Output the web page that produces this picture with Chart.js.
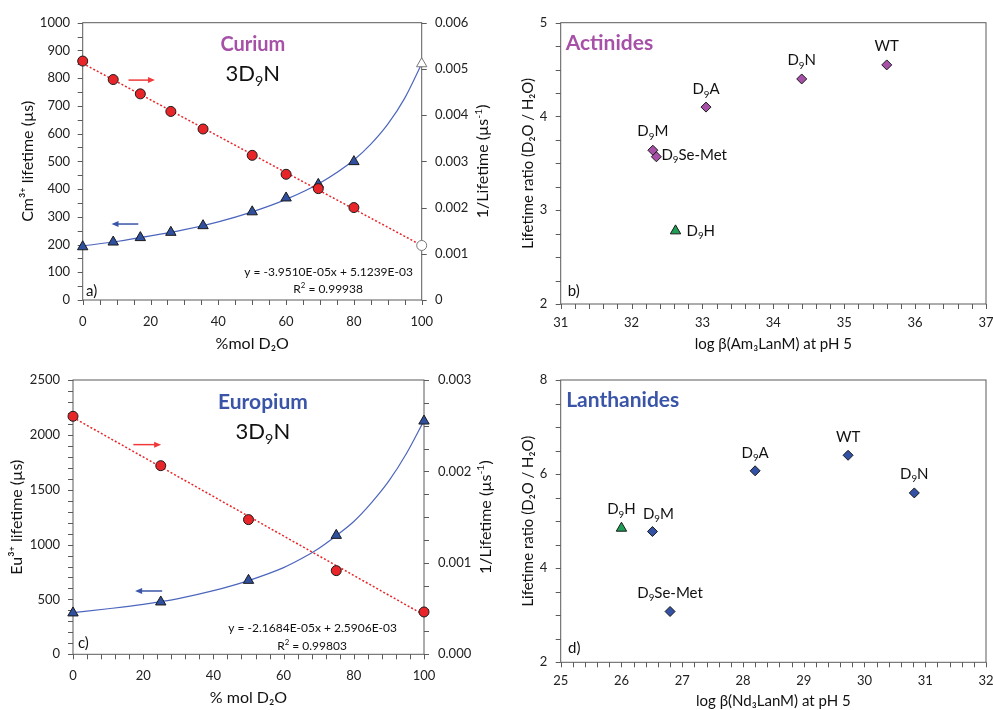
<!DOCTYPE html>
<html lang="en">
<head>
<meta charset="UTF-8">
<title>Cm / Eu lifetimes</title>
<script src="https://cdn.jsdelivr.net/npm/chart.js@4.4.0/dist/chart.umd.min.js"></script>
<style>
    body {
        margin: 0;
        width: 993px;
        height: 710px;
        overflow: hidden;
        position: relative;
        background: #fff;
    }
    canvas {
        position: absolute;
    }
</style>
</head>
<body>
<canvas id="chartA" width="496" height="360" style="left:0;top:0"></canvas>
<canvas id="chartB" width="497" height="360" style="left:496px;top:0"></canvas>
<canvas id="chartC" width="496" height="360" style="left:0;top:350px"></canvas>
<canvas id="chartD" width="497" height="360" style="left:496px;top:350px"></canvas>
<script>
    // ---- a) curium, 3D9N ----
    const cmMolD2O = [0, 9, 17, 26, 35.5, 50, 60, 69.5, 80];
    const cmInvLifetime = [0.00517, 0.00477, 0.00446, 0.00408, 0.00370, 0.00313, 0.00272, 0.00241, 0.00200];
    const cmLifetime = [192, 209, 225, 244, 268, 318, 368, 417, 499];
    const cmOpenX = [100];
    const cmOpenInv = [0.00118];
    const cmOpenLifetime = [852];
    const cmFitX = [0, 100];
    const cmFitInv = [0.00512, 0.00118];
    const cmCurveX = [0, 10, 20, 30, 40, 50, 60, 70, 80, 85, 90, 95, 100];
    const cmCurveLifetime = [195, 211, 231, 254, 282, 318, 363, 422, 505, 562, 634, 728, 852];

    // ---- c) europium, 3D9N ----
    const euMolD2O = [0, 25, 50, 75, 100];
    const euInvLifetime = [0.002603, 0.002063, 0.001473, 0.000915, 0.000463];
    const euLifetime = [377, 477, 674, 1084, 2126];
    const euFitX = [0, 100];
    const euFitInv = [0.00259, 0.00043];
    const euCurveX = [0, 10, 20, 30, 40, 50, 60, 65, 70, 75, 80, 85, 90, 95, 100];
    const euCurveLifetime = [380, 415, 455, 508, 580, 672, 790, 870, 965, 1081, 1210, 1380, 1580, 1830, 2130];

    // ---- b) actinides ----
    const actNames = ['D_{9}M', 'D_{9}Se-Met', 'D_{9}A', 'D_{9}N', 'WT'];
    const actLogBeta = [32.30, 32.35, 33.05, 34.40, 35.60];
    const actRatio = [3.64, 3.57, 4.10, 4.40, 4.55];
    const actHisName = ['D_{9}H'];
    const actHisLogBeta = [32.62];
    const actHisRatio = [2.78];

    // ---- d) lanthanides ----
    const lanNames = ['D_{9}M', 'D_{9}Se-Met', 'D_{9}A', 'WT', 'D_{9}N'];
    const lanLogBeta = [26.51, 26.80, 28.20, 29.73, 30.82];
    const lanRatio = [4.78, 3.08, 6.07, 6.40, 5.60];
    const lanHisName = ['D_{9}H'];
    const lanHisLogBeta = [26.0];
    const lanHisRatio = [4.85];

    // label placement (dx, dy in px, align)
    const actLabelPos = [[0, -19, 'center'], [5, -2, 'left'], [0, -18, 'center'], [0, -19, 'center'], [0, -19, 'center']];
    const actHisLabelPos = [[11, 0, 'left']];
    const lanLabelPos = [[6, -18, 'center'], [0, -19, 'center'], [0, -18, 'center'], [0, -19, 'center'], [0, -19, 'center']];
    const lanHisLabelPos = [[0, -19, 'center']];

    const FONT = 'Lato, "DejaVu Sans", sans-serif';
    const AXIS_COLOR = '#5a5a5a';
    const RED = '#e8262a';
    const BLUE = '#2f4f9f';
    const PURPLE = '#a650a8';
    const TITLE_BLUE = '#3a55a8';
    const GREEN = '#1f9f55';
    const TICK_LEN = 5;

    Chart.defaults.font.family = FONT;
    Chart.defaults.color = '#222';
    Chart.defaults.animation = false;

    const pts = (xs, ys) => xs.map((x, i) => ({ x: x, y: ys[i] }));

    function axis(o) {
        const vertical = o.pos === 'left' || o.pos === 'right';
        return {
            type: 'linear',
            position: o.pos,
            min: o.min,
            max: o.max,
            // tick marks (major + minor) are drawn by the decor plugin
            grid: { display: false, drawOnChartArea: false, drawTicks: true, tickLength: TICK_LEN },
            border: { display: false },
            ticks: {
                stepSize: o.major,
                autoSkip: false,
                maxRotation: 0,
                padding: o.tickPad,
                color: '#222',
                font: { size: 13 },
                callback: v => o.fmt(v)
            },
            title: {
                display: !!o.title,
                text: o.title || '',
                color: '#111',
                font: { size: o.titleSize || 16 },
                padding: vertical ? { top: o.titlePad || 0, bottom: 0 } : { top: 0, bottom: o.titlePad || 0 }
            },
            afterFit: s => {
                if (vertical) s.width = o.size; else s.height = o.size;
                s.paddingLeft = 0; s.paddingRight = 0; s.paddingTop = 0; s.paddingBottom = 0;
                const n = Math.round((o.max - o.min) / o.step);
                s.$tickValues = [];
                for (let i = 0; i <= n; i++) s.$tickValues.push(o.min + i * o.step);
            }
        };
    }

    function parseRich(s) {
        const parts = [];
        const re = /([_^])\{([^}]*)\}/g;
        let last = 0, m;
        while ((m = re.exec(s))) {
            if (m.index > last) parts.push([s.slice(last, m.index), 0]);
            parts.push([m[2], m[1] === '_' ? 1 : -1]);
            last = re.lastIndex;
        }
        if (last < s.length) parts.push([s.slice(last), 0]);
        return parts;
    }

    function drawRich(ctx, s, x, y, size, opt) {
        const parts = parseRich(s);
        const weight = opt.weight || 'normal';
        const fontFor = p => `${weight} ${p[1] ? size * 0.65 : size}px ${FONT}`;
        let total = 0;
        const widths = parts.map(p => { ctx.font = fontFor(p); const w = ctx.measureText(p[0]).width; total += w; return w; });
        let cx = x;
        if (opt.align === 'center') cx = x - total / 2;
        else if (opt.align === 'right') cx = x - total;
        const base = y + size * 0.35;
        ctx.fillStyle = opt.color || '#111';
        ctx.textBaseline = 'alphabetic';
        ctx.textAlign = 'left';
        parts.forEach((p, i) => {
            ctx.font = fontFor(p);
            const dy = p[1] === 1 ? size * 0.22 : (p[1] === -1 ? -size * 0.4 : 0);
            ctx.fillText(p[0], cx, base + dy);
            cx += widths[i];
        });
    }

    function drawArrow(ctx, x1, x2, y, color) {
        const dir = Math.sign(x2 - x1);
        ctx.strokeStyle = color;
        ctx.fillStyle = color;
        ctx.lineWidth = 1.5;
        ctx.beginPath();
        ctx.moveTo(x1, y);
        ctx.lineTo(x2 - dir * 5, y);
        ctx.stroke();
        ctx.beginPath();
        ctx.moveTo(x2, y);
        ctx.lineTo(x2 - dir * 7, y - 3);
        ctx.lineTo(x2 - dir * 7, y + 3);
        ctx.closePath();
        ctx.fill();
    }

    function decor(spec) {
        return {
            id: 'decor',
            beforeDatasetsDraw(chart) {
                const { ctx, chartArea: a } = chart;
                ctx.save();
                ctx.strokeStyle = AXIS_COLOR;
                ctx.lineWidth = 1;
                ctx.strokeRect(a.left, a.top, a.right - a.left, a.bottom - a.top);
                // outward tick marks on every axis
                ctx.beginPath();
                Object.values(chart.scales).forEach(s => {
                    (s.$tickValues || []).forEach(v => {
                        const p = Math.round(s.getPixelForValue(v)) + 0.5;
                        if (s.position === 'bottom') { ctx.moveTo(p, a.bottom); ctx.lineTo(p, a.bottom + TICK_LEN); }
                        else if (s.position === 'left') { ctx.moveTo(a.left - TICK_LEN, p); ctx.lineTo(a.left, p); }
                        else if (s.position === 'right') { ctx.moveTo(a.right, p); ctx.lineTo(a.right + TICK_LEN, p); }
                    });
                });
                ctx.stroke();
                ctx.restore();
            },
            afterDatasetsDraw(chart) {
                const { ctx, scales, chartArea: a } = chart;
                const px = v => scales.x.getPixelForValue(v);
                ctx.save();
                (spec.arrows || []).forEach(ar => {
                    drawArrow(ctx, px(ar.x1), px(ar.x2), scales[ar.axis].getPixelForValue(ar.y), ar.color);
                });
                (spec.texts || []).forEach(t => {
                    drawRich(ctx, t.text, px(t.x), scales[t.axis || 'y'].getPixelForValue(t.y), t.size, t);
                });
                (spec.labels || []).forEach(g => {
                    g.names.forEach((n, i) => {
                        const p = g.pos[i];
                        drawRich(ctx, n, px(g.xs[i]) + p[0], scales.y.getPixelForValue(g.ys[i]) + p[1], 15, { align: p[2] });
                    });
                });
                if (spec.rightTitle) {
                    // right axis title reads bottom-to-top, like the left one
                    ctx.save();
                    ctx.translate(a.right + spec.rightTitle.offset, (a.top + a.bottom) / 2);
                    ctx.rotate(-Math.PI / 2);
                    drawRich(ctx, spec.rightTitle.text, 0, 0, 16, { align: 'center' });
                    ctx.restore();
                }
                ctx.restore();
            }
        };
    }

    const marker = (style, fill, r, edge) => ({
        showLine: false, pointStyle: style, pointRadius: r, pointHoverRadius: r,
        pointBackgroundColor: fill, pointBorderColor: edge || '#1a1a1a', pointBorderWidth: 1, clip: false, order: 1
    });

    // ---------- panel a ----------
    new Chart(document.getElementById('chartA'), {
        type: 'scatter',
        data: {
            datasets: [
                Object.assign({ data: pts(cmMolD2O, cmInvLifetime), yAxisID: 'y1' }, marker('circle', RED, 5)),
                Object.assign({ data: pts(cmOpenX, cmOpenInv), yAxisID: 'y1' }, marker('circle', '#fff', 5, '#777')),
                Object.assign({ data: pts(cmMolD2O, cmLifetime), yAxisID: 'y' }, marker('triangle', BLUE, 6)),
                Object.assign({ data: pts(cmOpenX, cmOpenLifetime), yAxisID: 'y' }, marker('triangle', '#fff', 6, '#777')),
                { data: pts(cmFitX, cmFitInv), yAxisID: 'y1', showLine: true, pointRadius: 0, borderColor: RED, borderWidth: 1.5, borderDash: [2, 2], order: 3 },
                { data: pts(cmCurveX, cmCurveLifetime), yAxisID: 'y', showLine: true, pointRadius: 0, borderColor: '#4d66bd', borderWidth: 1.2, cubicInterpolationMode: 'monotone', order: 3 }
            ]
        },
        options: {
            responsive: false,
            layout: { padding: { top: 22.7, left: 0, right: 0, bottom: 0 } },
            plugins: { legend: { display: false }, tooltip: { enabled: false } },
            scales: {
                x: axis({ pos: 'bottom', min: 0, max: 100, step: 5, major: 20, fmt: v => String(v), size: 60, tickPad: 9, title: '%mol D₂O', titlePad: 6.4 }),
                y: axis({ pos: 'left', min: 0, max: 1000, step: 50, major: 100, fmt: v => String(v), size: 82.7, tickPad: 7.7, title: 'Cm³⁺ lifetime (µs)', titlePad: 18.4 }),
                y1: axis({ pos: 'right', min: 0, max: 0.006, step: 0.001, major: 0.001, fmt: v => v === 0 ? '0' : v.toFixed(3), size: 74.3, tickPad: 8.3 })
            }
        },
        plugins: [decor({
            rightTitle: { text: '1/Lifetime (µs^{-1})', offset: 61 },
            arrows: [
                { x1: 13.5, x2: 21.3, y: 793, axis: 'y', color: '#f03a3a' },
                { x1: 16.4, x2: 8.5, y: 274, axis: 'y', color: TITLE_BLUE }
            ],
            texts: [
                { text: 'Curium', x: 50.2, y: 923, size: 20, weight: 'bold', color: PURPLE, align: 'center' },
                { text: '3D_{9}N', x: 50.2, y: 818, size: 22, align: 'center' },
                { text: 'y = -3.9510E-05x + 5.1239E-03', x: 97.4, y: 101, size: 12, align: 'right' },
                { text: 'R^{2} = 0.99938', x: 72.4, y: 40, size: 12, align: 'center' },
                { text: 'a)', x: 1, y: 32, size: 15, align: 'left' }
            ]
        })]
    });

    // ---------- panel b ----------
    new Chart(document.getElementById('chartB'), {
        type: 'scatter',
        data: {
            datasets: [
                Object.assign({ data: pts(actLogBeta, actRatio) }, marker('rectRot', PURPLE, 5)),
                Object.assign({ data: pts(actHisLogBeta, actHisRatio) }, marker('triangle', GREEN, 6))
            ]
        },
        options: {
            responsive: false,
            layout: { padding: { top: 22.7, left: 0, right: 6.3, bottom: 0 } },
            plugins: { legend: { display: false }, tooltip: { enabled: false } },
            scales: {
                x: axis({ pos: 'bottom', min: 31, max: 37, step: 0.2, major: 1, fmt: v => String(Math.round(v)), size: 56, tickPad: 6, title: 'log β(Am₃LanM) at pH 5', titleSize: 15, titlePad: 7 }),
                y: axis({ pos: 'left', min: 2, max: 5, step: 0.25, major: 1, fmt: v => String(Math.round(v)), size: 64.7, tickPad: 8.4, title: 'Lifetime ratio (D₂O / H₂O)', titleSize: 15, titlePad: 23 })
            }
        },
        plugins: [decor({
            texts: [
                { text: 'Actinides', x: 31.07, y: 4.79, size: 21, weight: 'bold', color: PURPLE, align: 'left' },
                { text: 'b)', x: 31.1, y: 2.14, size: 15, align: 'left' }
            ],
            labels: [
                { names: actNames, xs: actLogBeta, ys: actRatio, pos: actLabelPos },
                { names: actHisName, xs: actHisLogBeta, ys: actHisRatio, pos: actHisLabelPos }
            ]
        })]
    });

    // ---------- panel c ----------
    new Chart(document.getElementById('chartC'), {
        type: 'scatter',
        data: {
            datasets: [
                Object.assign({ data: pts(euMolD2O, euInvLifetime), yAxisID: 'y1' }, marker('circle', RED, 5)),
                Object.assign({ data: pts(euMolD2O, euLifetime), yAxisID: 'y' }, marker('triangle', BLUE, 6)),
                { data: pts(euFitX, euFitInv), yAxisID: 'y1', showLine: true, pointRadius: 0, borderColor: RED, borderWidth: 1.5, borderDash: [2, 2], order: 3 },
                { data: pts(euCurveX, euCurveLifetime), yAxisID: 'y', showLine: true, pointRadius: 0, borderColor: '#4d66bd', borderWidth: 1.2, cubicInterpolationMode: 'monotone', order: 3 }
            ]
        },
        options: {
            responsive: false,
            layout: { padding: { top: 30, left: 0, right: 0, bottom: 0 } },
            plugins: { legend: { display: false }, tooltip: { enabled: false } },
            scales: {
                x: axis({ pos: 'bottom', min: 0, max: 100, step: 4, major: 20, fmt: v => String(v), size: 55.7, tickPad: 8.7, title: '% mol D₂O', titlePad: 2.4 }),
                y: axis({ pos: 'left', min: 0, max: 2500, step: 100, major: 500, fmt: v => String(v), size: 73, tickPad: 8, title: 'Eu³⁺ lifetime (µs)', titlePad: 7.4 }),
                y1: axis({ pos: 'right', min: 0, max: 0.003, step: 0.00025, major: 0.001, fmt: v => v.toFixed(3), size: 72, tickPad: 9 })
            }
        },
        plugins: [decor({
            rightTitle: { text: '1/Lifetime (µs^{-1})', offset: 61 },
            arrows: [
                { x1: 17.2, x2: 25.1, y: 1911, axis: 'y', color: '#f03a3a' },
                { x1: 25.4, x2: 17.7, y: 577, axis: 'y', color: TITLE_BLUE }
            ],
            texts: [
                { text: 'Europium', x: 54.1, y: 2300, size: 21, weight: 'bold', color: TITLE_BLUE, align: 'center' },
                { text: '3D_{9}N', x: 54.1, y: 2035, size: 22, align: 'center' },
                { text: 'y = -2.1684E-05x + 2.5906E-03', x: 92.3, y: 240, size: 12, align: 'right' },
                { text: 'R^{2} = 0.99803', x: 68.1, y: 76, size: 12, align: 'center' },
                { text: 'c)', x: 1.4, y: 103, size: 15, align: 'left' }
            ]
        })]
    });

    // ---------- panel d ----------
    new Chart(document.getElementById('chartD'), {
        type: 'scatter',
        data: {
            datasets: [
                Object.assign({ data: pts(lanLogBeta, lanRatio) }, marker('rectRot', '#3352a6', 5)),
                Object.assign({ data: pts(lanHisLogBeta, lanHisRatio) }, marker('triangle', GREEN, 6))
            ]
        },
        options: {
            responsive: false,
            layout: { padding: { top: 30, left: 0, right: 6.3, bottom: 0 } },
            plugins: { legend: { display: false }, tooltip: { enabled: false } },
            scales: {
                x: axis({ pos: 'bottom', min: 25, max: 32, step: 0.2, major: 1, fmt: v => String(Math.round(v)), size: 47.7, tickPad: 5.7, title: 'log β(Nd₃LanM) at pH 5', titleSize: 15, titlePad: 0 }),
                y: axis({ pos: 'left', min: 2, max: 8, step: 0.5, major: 2, fmt: v => String(Math.round(v)), size: 64.7, tickPad: 8.4, title: 'Lifetime ratio (D₂O / H₂O)', titleSize: 15, titlePad: 23 })
            }
        },
        plugins: [decor({
            texts: [
                { text: 'Lanthanides', x: 25.09, y: 7.575, size: 21, weight: 'bold', color: TITLE_BLUE, align: 'left' },
                { text: 'd)', x: 25.12, y: 2.30, size: 15, align: 'left' }
            ],
            labels: [
                { names: lanNames, xs: lanLogBeta, ys: lanRatio, pos: lanLabelPos },
                { names: lanHisName, xs: lanHisLogBeta, ys: lanHisRatio, pos: lanHisLabelPos }
            ]
        })]
    });
</script>
</body>
</html>
